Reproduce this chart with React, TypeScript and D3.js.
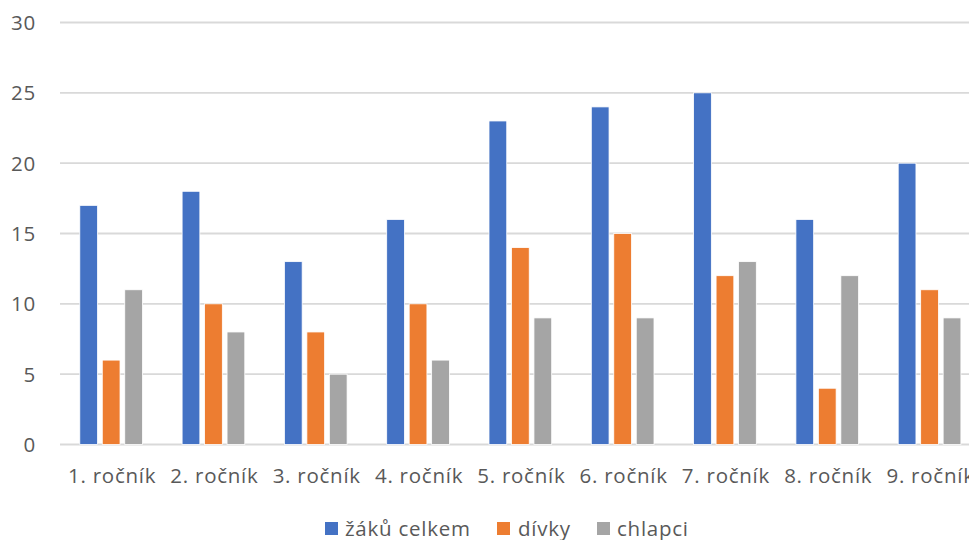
import React from "react";
import * as d3 from "d3";

const categories = ["1. ročník", "2. ročník", "3. ročník", "4. ročník", "5. ročník", "6. ročník", "7. ročník", "8. ročník", "9. ročník"];
const seriesNames = ["žáků celkem", "dívky", "chlapci"];
const seriesColors = ["#4472C4", "#ED7D31", "#A5A5A5"];
const zakuCelkem = [17, 18, 13, 16, 23, 24, 25, 16, 20];
const divky = [6, 10, 8, 10, 14, 15, 12, 4, 11];
const chlapci = [11, 8, 5, 6, 9, 9, 13, 12, 9];
const yTicks = [0, 5, 10, 15, 20, 25, 30];

const W = 969;
const H = 540;
const FONT = "'Open Sans', 'Noto Sans', sans-serif";
const FS = 20.5;
const LS = 0.75;

export default function App() {
  const series = [zakuCelkem, divky, chlapci];
  const left = 60;
  const groupW = 102.3;
  const x0 = d3.scaleBand<string>().domain(categories).range([left, left + groupW * categories.length]).padding(0);
  const x1 = d3.scaleBand<number>().domain([0, 1, 2]).range([19.8, 82.5]).paddingInner(0.21).paddingOuter(0);
  const y = d3.scaleLinear().domain([0, 30]).range([444.5, 22.5]);

  const legendItems = [
    { sq: 325, tx: 345 },
    { sq: 497, tx: 518 },
    { sq: 597, tx: 617 },
  ];

  return (
    <svg width={W} height={H} style={{ position: "absolute", left: 0, top: 0, background: "#fff" }} fontFamily={FONT}>
      <rect x={0} y={0} width={W} height={H} fill="#fff" />
      {yTicks.map((t) => (
        <g key={t}>
          <line x1={left} x2={W} y1={y(t)} y2={y(t)} stroke="#D9D9D9" strokeWidth={1.8} />
          <text x={36} y={y(t)} dy="0.36em" textAnchor="end" fontSize={FS} letterSpacing={LS} fill="#595959">
            {t}
          </text>
        </g>
      ))}
      {categories.map((c, i) => (
        <g key={c} transform={`translate(${x0(c)},0)`}>
          {series.map((s, j) => (
            <rect
              key={j}
              x={x1(j)}
              y={y(s[i])}
              width={x1.bandwidth()}
              height={y(0) - y(s[i])}
              fill={seriesColors[j]}
              stroke="#fff"
              strokeWidth={0.8}
            />
          ))}
          <text x={groupW / 2 + 1} y={483} textAnchor="middle" fontSize={FS} letterSpacing={LS} fill="#595959">
            {c}
          </text>
        </g>
      ))}
      {seriesNames.map((n, j) => (
        <g key={n}>
          <rect x={legendItems[j].sq} y={522} width={13} height={13} fill={seriesColors[j]} />
          <text x={legendItems[j].tx} y={535.5} fontSize={FS} letterSpacing={LS} fill="#595959">
            {n}
          </text>
        </g>
      ))}
    </svg>
  );
}
